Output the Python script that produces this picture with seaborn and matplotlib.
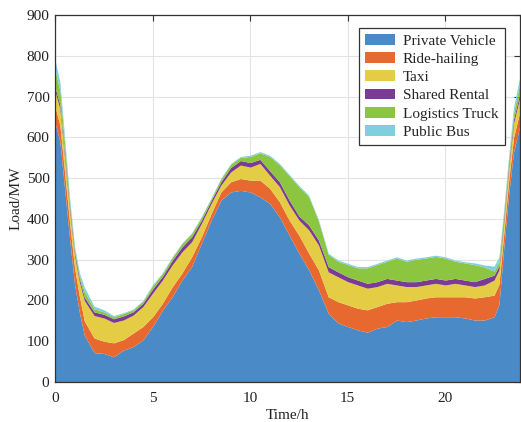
"""
Stacked EV charging load by vehicle type over one day
"""

import matplotlib
matplotlib.use("Agg")
import matplotlib.pyplot as plt
import seaborn as sns
import pandas as pd

# time of day (h)
hours = [0, 0.25, 0.5, 0.75, 1, 1.25, 1.5, 2, 2.5, 3, 3.5, 4, 4.5, 5, 5.5, 6,
         6.5, 7, 7.5, 8, 8.5, 9, 9.5, 10, 10.5, 11, 11.5, 12, 12.5, 13, 13.5,
         14, 14.5, 15, 15.5, 16, 16.5, 17, 17.5, 18, 18.5, 19, 19.5, 20, 20.5,
         21, 21.5, 22, 22.5, 22.75, 23, 23.25, 23.5, 23.83]

# load of each vehicle type (MW)
private_vehicle = [635, 590, 470, 350, 240, 170, 115, 72, 70, 62, 78, 87, 103, 136, 176, 209,
                   250, 283, 340, 397, 446, 466, 470, 466, 454, 438, 405, 360, 316, 275, 226,
                   169, 145, 136, 128, 122, 132, 136, 152, 148, 152, 157, 160, 160, 160,
                   157, 152, 152, 160, 190, 330, 460, 565, 630]
ride_hailing = [40, 40, 40, 40, 40, 40, 35, 36, 30, 34, 26, 33, 33, 24, 17, 24,
                17, 24, 16, 16, 20, 25, 29, 29, 41, 37, 37, 37, 44, 41, 49,
                40, 52, 53, 53, 55, 53, 57, 45, 49, 49, 49, 49, 49, 49,
                52, 54, 57, 53, 50, 35, 35, 35, 35]
taxi = [37, 40, 35, 30, 30, 35, 50, 55, 57, 50, 48, 44, 49, 58, 57, 54,
        52, 37, 33, 25, 17, 24, 33, 32, 41, 32, 37, 37, 37, 57, 61,
        61, 61, 57, 57, 53, 49, 49, 41, 37, 33, 32, 33, 29, 33,
        29, 28, 29, 37, 35, 30, 30, 35, 35]
shared_rental = [10, 10, 10, 10, 8, 8, 8, 9, 9, 9, 10, 8, 8, 10, 9, 11,
                 12, 12, 8, 7, 8, 11, 11, 11, 10, 11, 12, 12, 10, 12, 12,
                 13, 12, 12, 12, 12, 12, 12, 12, 12, 12, 12, 12, 12, 12,
                 12, 12, 16, 12, 10, 10, 10, 10, 10]
logistics_truck = [43, 35, 25, 10, 8, 7, 14, 8, 6, 5, 6, 5, 5, 8, 7, 7,
                   8, 8, 7, 5, 7, 8, 8, 15, 16, 35, 42, 60, 72, 70, 47,
                   30, 26, 30, 30, 38, 42, 42, 54, 50, 55, 54, 54, 54, 42,
                   42, 42, 28, 10, 10, 10, 10, 15, 25]
public_bus = [25, 20, 15, 10, 7, 8, 11, 6, 5, 3, 2, 2, 2, 3, 2, 2,
              2, 2, 2, 2, 2, 2, 2, 3, 3, 3, 3, 3, 3, 3, 3,
              3, 3, 3, 3, 3, 3, 3, 3, 3, 3, 3, 3, 3, 3,
              3, 4, 5, 12, 12, 10, 10, 15, 15]

vehicle_types = ["Private Vehicle", "Ride-hailing", "Taxi",
                 "Shared Rental", "Logistics Truck", "Public Bus"]

df = pd.DataFrame({
    "Time": hours,
    "Private Vehicle": private_vehicle,
    "Ride-hailing": ride_hailing,
    "Taxi": taxi,
    "Shared Rental": shared_rental,
    "Logistics Truck": logistics_truck,
    "Public Bus": public_bus,
})

sns.set_theme(style="whitegrid")
plt.rcParams["font.family"] = ["Liberation Serif", "DejaVu Serif"]
colors = sns.color_palette(["#4A8BC7", "#E8692F", "#E4CD45",
                            "#7B3A93", "#8CC640", "#80CFDF"])

fig = plt.figure(figsize=(5.21, 4.22), dpi=100)
ax = fig.add_axes([0.1056, 0.0948, 0.8925, 0.8697])

ax.stackplot(df["Time"], *[df[c] for c in vehicle_types],
             labels=vehicle_types, colors=colors, linewidth=0)

ax.set_xlim(0, 23.83)
ax.set_ylim(0, 900)
ax.set_xticks([0, 5, 10, 15, 20])
ax.set_yticks(range(0, 901, 100))
ax.grid(True, color="#e3e3e3", linewidth=0.8)
ax.set_axisbelow(True)
ax.set_facecolor("white")
for s in ax.spines.values():
    s.set_color("#333333")
    s.set_linewidth(0.9)
ax.tick_params(direction="in", length=4, width=0.8, color="#333333",
               top=True, right=True, labelsize=11, labelcolor="#222222", pad=4)
ax.tick_params(axis="x", pad=7)

ax.set_xlabel("Time/h", fontsize=11, color="#222222", labelpad=3)
ax.set_ylabel("Load/MW", fontsize=11, color="#222222", labelpad=3)

leg = ax.legend(loc="upper right", bbox_to_anchor=(0.967, 0.965), fontsize=11,
                frameon=True, fancybox=False, framealpha=1, edgecolor="#333333",
                handlelength=2.0, handleheight=0.7, labelspacing=0.3,
                borderpad=0.4, handletextpad=0.5, borderaxespad=0)
leg.get_frame().set_linewidth(0.9)

fig.savefig("out.png", dpi=100)
